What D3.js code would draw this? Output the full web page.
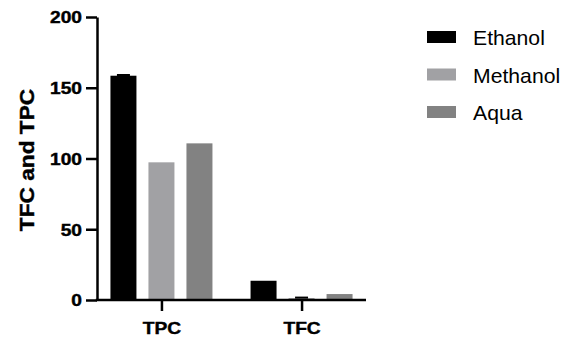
<!DOCTYPE html>
<html>
<head>
<meta charset="utf-8">
<script src="https://cdn.jsdelivr.net/npm/d3@7"></script>
<style>
html,body{margin:0;padding:0;background:#fff;}
svg{display:block;}
text{font-family:"Liberation Sans", Arial, Helvetica, sans-serif;}
</style>
</head>
<body>
<svg id="chart" width="570" height="338"></svg>
<script>
const categories = ["TPC", "TFC"];
const seriesNames = ["Ethanol", "Methanol", "Aqua"];
const ethanol = [158.5, 13.6];
const methanol = [97.3, 1.4];
const aqua = [110.7, 4.2];
const ethanolErr = [0.5, 0];
const methanolErr = [0, 0.3];
const aquaErr = [0, 0];
const yTicks = [0, 50, 100, 150, 200];
const colors = ["#000000", "#a1a1a4", "#828282"];

const values = [ethanol, methanol, aqua];
const errs = [ethanolErr, methanolErr, aquaErr];

const svg = d3.select("#chart");
const x0 = 97, x1 = 366, yTop = 17, yBot = 300;

const y = d3.scaleLinear().domain([0, 200]).range([yBot, yTop]);
const xCat = d3.scalePoint().domain(categories).range([x0, x1]).padding(0.46);
const xSer = d3.scaleBand().domain(seriesNames).range([-51, 51]).paddingInner(0.316).paddingOuter(0);

const data = [];
categories.forEach((c, ci) => {
  seriesNames.forEach((s, si) => {
    data.push({c, s, si, v: values[si][ci], e: errs[si][ci]});
  });
});

svg.append("g").selectAll("rect").data(data).join("rect")
  .attr("x", d => xCat(d.c) + xSer(d.s))
  .attr("y", d => y(d.v))
  .attr("width", xSer.bandwidth())
  .attr("height", d => y(0) - y(d.v))
  .attr("fill", d => colors[d.si]);

// error bars (caps)
const eg = svg.append("g").attr("stroke", "#000").attr("stroke-width", 2);
data.filter(d => d.e > 0).forEach(d => {
  const cx = xCat(d.c) + xSer(d.s) + xSer.bandwidth() / 2;
  const cw = xSer.bandwidth() / 4;
  eg.append("line").attr("x1", cx).attr("x2", cx).attr("y1", y(d.v)).attr("y2", y(d.v + d.e));
  eg.append("line").attr("x1", cx - cw).attr("x2", cx + cw).attr("y1", y(d.v + d.e)).attr("y2", y(d.v + d.e));
});

// y axis
const yAxis = svg.append("g").attr("transform", `translate(${x0},0)`)
  .call(d3.axisLeft(y).tickValues(yTicks).tickSize(11).tickPadding(4).tickSizeOuter(0));
yAxis.select(".domain").attr("stroke", "#000").attr("stroke-width", 2.5);
yAxis.selectAll(".tick line").attr("stroke", "#000").attr("stroke-width", 2.5);
yAxis.selectAll(".tick text")
  .attr("x", -15 / 1.2)
  .attr("dy", "0.36em")
  .attr("transform", "scale(1.2,1)")
  .attr("font-size", 16).attr("font-weight", "bold").attr("fill", "#000")
  .attr("stroke", "#000").attr("stroke-width", 0.4)
  .attr("font-family", "'Liberation Sans', Arial, sans-serif");

// x axis
const xAxis = svg.append("g").attr("transform", `translate(0,${yBot})`)
  .call(d3.axisBottom(xCat).tickSize(11).tickPadding(10).tickSizeOuter(0));
xAxis.select(".domain").attr("stroke", "#000").attr("stroke-width", 2.5)
  .attr("d", `M${x0 - 1.25},0H${x1}`);
xAxis.selectAll(".tick line").attr("stroke", "#000").attr("stroke-width", 2.5);
xAxis.selectAll(".tick text").remove();
xAxis.selectAll(".tick").append("text")
  .attr("transform", "translate(0,34) scale(1.2,1)")
  .attr("text-anchor", "middle")
  .attr("font-size", 16).attr("font-weight", "bold").attr("fill", "#000")
  .attr("stroke", "#000").attr("stroke-width", 0.4)
  .text(d => d);

// y title
svg.append("text")
  .attr("transform", "translate(34,160) rotate(-90) scale(1.08,1)")
  .attr("text-anchor", "middle")
  .attr("font-size", 21).attr("font-weight", "bold").attr("fill", "#000")
  .attr("stroke", "#000").attr("stroke-width", 0.4)
  .text("TFC and TPC");

// legend
const lg = svg.append("g");
const rowY = d3.scalePoint().domain(seriesNames).range([37, 112]);
seriesNames.forEach((s, i) => {
  lg.append("rect").attr("x", 427).attr("y", rowY(s) - 6).attr("width", 29).attr("height", 12).attr("fill", colors[i]);
  lg.append("text")
    .attr("transform", `translate(473,${rowY(s) + 8}) scale(1.06,1)`)
    .attr("font-size", 20).attr("fill", "#000")
    .text(s);
});
</script>
</body>
</html>
